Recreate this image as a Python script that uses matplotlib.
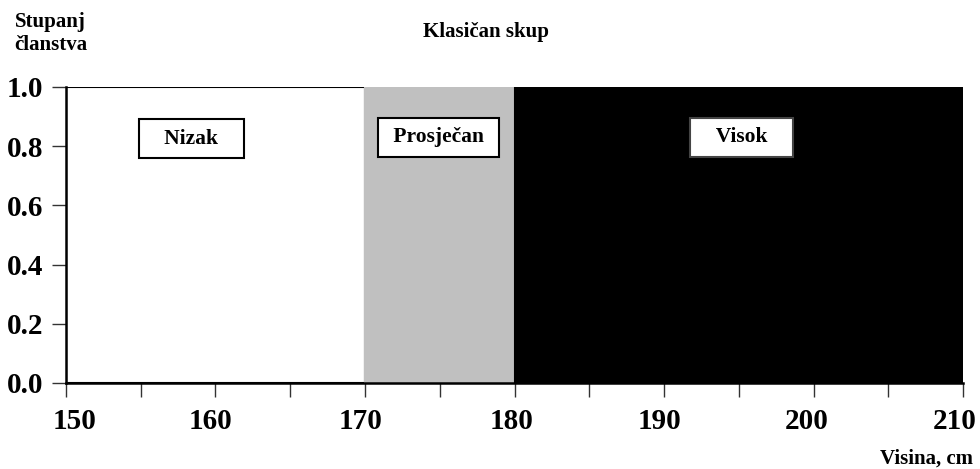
import matplotlib.pyplot as plt
from matplotlib.transforms import ScaledTranslation

plt.rcParams['font.family'] = ['Liberation Serif', 'DejaVu Serif']
plt.rcParams['font.weight'] = 'bold'

# fuzzy sets on height (cm)
edges = [150, 170, 180, 210]
set_names = ['Nizak', 'Prosječan', 'Visok']
membership = [1.0, 1.0, 1.0]
fill_colors = ['white', '#c0c0c0', 'black']
label_x = [158.4, 174.9, 195.2]
label_y = [0.825, 0.83, 0.83]
label_pad = ['   Nizak   ', ' Prosječan ', '   Visok   ']

x_major = [150, 160, 170, 180, 190, 200, 210]
x_minor = [155, 165, 175, 185, 195, 205]
y_ticks = [0.0, 0.2, 0.4, 0.6, 0.8, 1.0]

fig = plt.figure(figsize=(9.8, 4.69), dpi=100)
ax = fig.add_axes([0.0673, 0.1834, 0.9155, 0.6311])

lefts = edges[:-1]
widths = [b - a for a, b in zip(edges[:-1], edges[1:])]
for x0, w, h, c in zip(lefts, widths, membership, fill_colors):
    ec = 'black' if c == 'white' else c
    ax.bar(x0, h, width=w, align='edge', color=c, edgecolor=ec, linewidth=1.5, zorder=1)

for x, y, txt, c in zip(label_x, label_y, label_pad, fill_colors):
    bc = '#444444' if c == 'black' else 'black'
    ax.text(x, y, txt, ha='center', va='center', fontsize=15.5, fontweight='bold',
            color='black', zorder=3,
            bbox=dict(boxstyle='square,pad=0.45', fc='white', ec=bc, lw=1.5))

ax.set_xlim(150, 210)
ax.set_ylim(0, 1.0)
ax.set_xticks(x_major)
ax.set_xticks(x_minor, minor=True)
ax.set_xticklabels([str(v) for v in x_major], fontweight='bold')
ax.set_yticks(y_ticks)
ax.set_yticklabels([f'{v:.1f}' for v in y_ticks], fontweight='bold')
ax.tick_params(axis='x', which='both', length=10, width=1.0, color='#333333',
               direction='out', pad=8, labelsize=21)
ax.tick_params(axis='y', which='major', length=10, width=1.0, color='#333333',
               direction='out', pad=6.5, labelsize=21)

# the labels in the original sit a little off their ticks
x_shift_px = [9, -5, -4, -3, -5, -7, -8]
for lab, dx in zip(ax.get_xticklabels(), x_shift_px):
    lab.set_transform(lab.get_transform() + ScaledTranslation(dx / 100, 0, fig.dpi_scale_trans))

for s in ['top', 'right']:
    ax.spines[s].set_visible(False)
for s in ['left', 'bottom']:
    ax.spines[s].set_linewidth(1.8)

fig.text(0.015, 0.975, 'Stupanj\nčlanstva', ha='left', va='top', fontsize=15,
         fontweight='bold', linespacing=1.2)
fig.text(0.496, 0.932, 'Klasičan skup', ha='center', va='center', fontsize=15, fontweight='bold')
fig.text(0.993, 0.022, 'Visina, cm', ha='right', va='center', fontsize=15, fontweight='bold')

fig.savefig('out.png', dpi=100)
